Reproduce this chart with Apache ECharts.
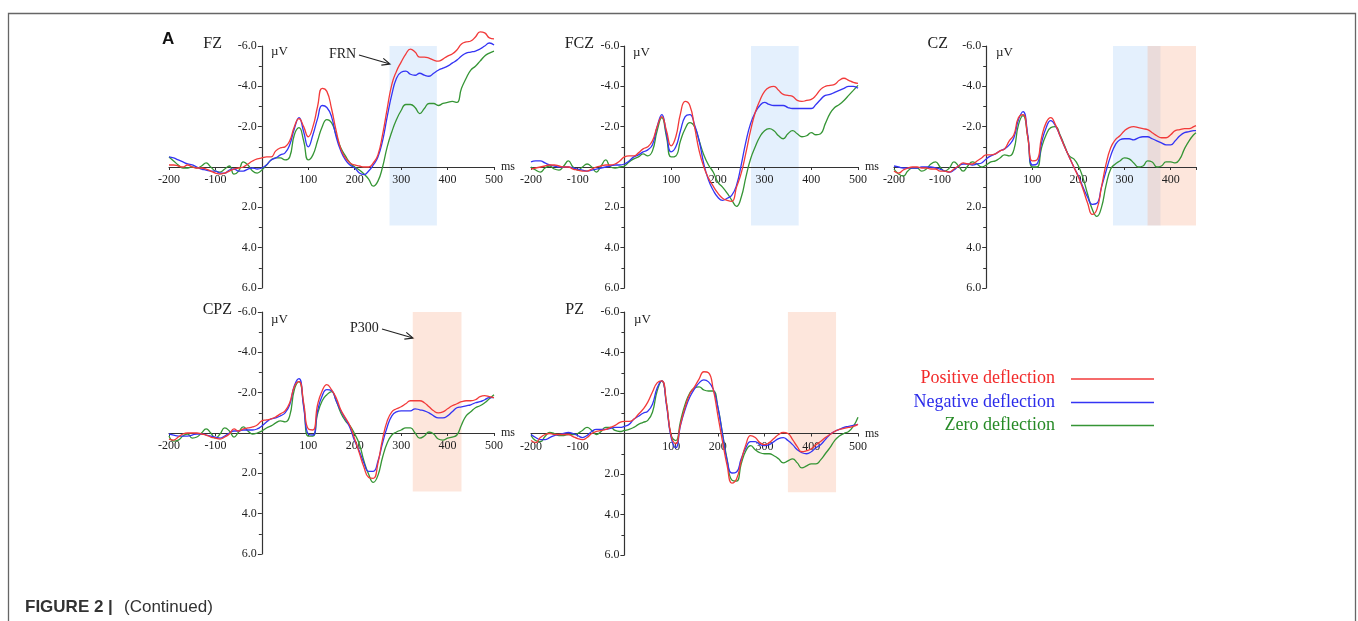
<!DOCTYPE html>
<html>
<head>
<meta charset="utf-8">
<script src="https://cdn.jsdelivr.net/npm/echarts@6/dist/echarts.min.js"></script>
<style>
  html, body { margin: 0; background: #fff; }
  #chart { width: 1358px; height: 621px; }
</style>
</head>
<body>
<div id="chart"></div>
<script>
// time points (ms), 10 ms steps
const times = [-200,-190,-180,-170,-160,-150,-140,-130,-120,-110,-100,-90,-80,-70,-60,-50,-40,-30,-20,-10,
  0,10,20,30,40,50,60,70,80,90,100,110,120,130,140,150,160,170,180,190,200,210,220,230,240,250,260,270,280,290,
  300,310,320,330,340,350,360,370,380,390,400,410,420,430,440,450,460,470,480,490,500];
// CZ is cut at 455 ms
const czTimes = times.slice(0, 66).concat([455]);

// amplitudes in µV (negative up)
const fzRed = [-0.1,-0.1,-0.05,0,-0.1,0,0.05,0.05,0.1,0.2,
  0.3,0.35,0.3,0.2,0.1,0.05,0,-0.15,-0.3,-0.4,
  -0.45,-0.5,-0.5,-0.8,-0.95,-1.0,-1.3,-2.0,-2.4,-2.0,
  -1.5,-2.0,-3.0,-3.9,-3.75,-2.9,-1.8,-0.9,-0.45,-0.2,
  -0.1,-0.05,0,0,-0.2,-0.6,-1.6,-2.9,-4.1,-4.75,
  -5.2,-5.6,-5.85,-5.7,-5.45,-5.45,-5.4,-5.3,-5.25,-5.35,
  -5.5,-5.6,-5.8,-6.1,-6.2,-6.25,-6.45,-6.7,-6.65,-6.4,
  -6.35];
const fzBlue = [-0.5,-0.45,-0.35,-0.25,-0.15,-0.1,0,0.1,0.15,0.2,
  0.2,0.3,0.3,0.15,0.1,0.2,0.2,0.1,0.05,0.1,
  0.05,-0.1,-0.35,-0.45,-0.6,-0.7,-1.1,-1.9,-2.45,-1.75,
  -1.0,-1.6,-2.4,-3.05,-2.95,-2.5,-1.5,-0.8,-0.35,-0.1,
  0.05,0.3,0.38,0.2,-0.1,-0.5,-1.3,-2.5,-3.6,-4.4,
  -4.7,-4.75,-4.6,-4.55,-4.65,-4.55,-4.5,-4.65,-4.8,-4.9,
  -5.0,-5.15,-5.3,-5.5,-5.65,-5.7,-5.75,-5.85,-6.0,-6.15,
  -6.05];
const fzGreen = [-0.5,-0.3,-0.1,0.05,0.05,0,0.05,-0.05,-0.2,0,
  0.2,0.25,0.1,-0.05,0.35,0.2,-0.25,-0.1,0.2,0.3,
  0.15,-0.1,-0.35,-0.45,-0.45,-0.35,-0.5,-1.6,-1.95,-1.3,
  -0.35,-0.6,-1.3,-2.0,-2.35,-2.2,-1.6,-0.95,-0.55,-0.2,
  0,0.15,0.35,0.6,0.95,0.7,0,-1.0,-1.75,-2.35,
  -2.8,-3.1,-3.1,-2.95,-2.65,-2.9,-3.15,-3.15,-3.05,-3.15,
  -3.2,-3.25,-3.2,-3.9,-4.4,-4.8,-5.0,-5.25,-5.5,-5.65,
  -5.75];

const fczRed = [0.1,0.05,0,-0.05,-0.1,-0.1,-0.05,0,0,0.1,
  0.15,0.2,0.2,0.1,0,-0.05,-0.1,-0.1,-0.15,-0.3,
  -0.5,-0.55,-0.55,-0.7,-0.9,-1.0,-1.3,-2.0,-2.5,-1.8,
  -1.05,-1.5,-2.65,-3.25,-3.05,-2.0,-0.8,0,0.55,0.95,
  1.3,1.55,1.65,1.7,1.0,0.3,-0.7,-1.8,-2.7,-3.3,
  -3.75,-3.95,-4.0,-3.8,-3.6,-3.55,-3.5,-3.3,-3.25,-3.3,
  -3.35,-3.55,-3.85,-4.0,-4.05,-4.1,-4.3,-4.4,-4.3,-4.2,
  -4.15];
const fczBlue = [-0.25,-0.3,-0.3,-0.2,-0.1,-0.05,0,0,0,0.05,
  0.1,0.15,0.2,0.15,0.1,0.05,0,-0.05,-0.1,-0.1,
  -0.15,-0.3,-0.5,-0.6,-0.75,-0.85,-1.1,-2.0,-2.6,-1.65,
  -0.75,-1.0,-1.8,-2.5,-2.6,-2.1,-1.3,-0.15,0.65,1.15,
  1.5,1.65,1.55,1.4,0.9,-0.1,-1.25,-2.15,-2.7,-3.05,
  -3.2,-3.1,-3.05,-3.05,-3.05,-2.95,-2.9,-2.9,-2.9,-2.9,
  -2.9,-3.1,-3.35,-3.55,-3.6,-3.7,-3.8,-3.9,-4.0,-4.0,
  -3.9];
const fczGreen = [0,0.15,0.25,0.05,-0.05,0.1,0.15,-0.05,-0.3,0,
  0.15,0,-0.15,0,0.25,-0.05,-0.35,0,0.05,0,
  -0.05,-0.25,-0.4,-0.5,-0.65,-0.55,-0.8,-1.8,-2.45,-1.5,
  -0.5,-0.55,-1.3,-1.9,-2.2,-2.0,-1.3,-0.6,-0.1,0.25,
  0.75,1.0,1.3,1.65,1.95,1.5,0.5,-0.4,-1.0,-1.5,
  -1.8,-1.9,-1.8,-1.55,-1.4,-1.65,-1.8,-1.65,-1.5,-1.55,
  -1.7,-1.6,-1.65,-2.15,-2.65,-2.95,-3.1,-3.3,-3.55,-3.8,
  -4.05];

const czRed = [0.2,0.3,0.15,0.05,0,0,0.05,0.05,0.1,0.1,
  0.2,0.2,0.25,0.1,-0.05,-0.2,-0.15,-0.15,-0.3,-0.45,
  -0.6,-0.6,-0.65,-0.8,-0.9,-1.3,-1.6,-2.45,-2.6,-1.5,
  -0.3,-0.35,-1.45,-2.2,-2.45,-2.1,-1.55,-1.0,-0.5,0,
  0.5,1.1,1.8,2.35,2.1,1.0,-0.15,-0.95,-1.35,-1.55,
  -1.8,-1.95,-2.0,-1.95,-1.9,-1.85,-1.7,-1.55,-1.45,-1.45,
  -1.6,-1.8,-1.85,-1.9,-1.9,-2.0,
  -2.05];
const czBlue = [-0.05,0,0.05,0.05,0.05,0.05,0,0,0,0.05,
  0.1,0.2,0.25,0.15,-0.05,-0.15,-0.15,-0.1,-0.15,-0.2,
  -0.4,-0.55,-0.65,-0.8,-0.9,-1.1,-1.45,-2.35,-2.75,-1.6,
  -0.1,-0.15,-1.2,-1.95,-2.3,-2.05,-1.55,-1.0,-0.5,0,
  0.45,1.0,1.5,1.85,1.8,1.0,0.2,-0.55,-1.1,-1.35,
  -1.4,-1.4,-1.35,-1.45,-1.5,-1.5,-1.4,-1.3,-1.2,-1.1,
  -1.1,-1.3,-1.55,-1.7,-1.75,-1.8,
  -1.8];
const czGreen = [0.1,0.35,0.45,0.2,0.05,0.05,0.2,0.1,-0.15,-0.25,
  0,0.2,0.05,-0.25,-0.05,0.2,-0.05,-0.25,-0.15,0,
  -0.1,-0.25,-0.3,-0.45,-0.6,-0.55,-0.85,-2.1,-2.55,-1.5,
  0,0,-0.95,-1.6,-1.95,-2.0,-1.6,-1.05,-0.55,-0.4,
  -0.05,0.55,1.35,2.1,2.45,2.0,0.9,0.1,-0.15,-0.3,
  -0.45,-0.4,-0.2,0,-0.05,-0.3,-0.25,0,-0.05,-0.25,
  -0.25,-0.2,-0.4,-0.9,-1.3,-1.6,
  -1.7];

const cpzRed = [0.3,0.35,0.2,0.05,0,0,0,0.05,0.1,0.2,
  0.25,0.3,0.2,0.05,-0.2,-0.1,-0.2,-0.25,-0.3,-0.4,
  -0.6,-0.65,-0.7,-0.8,-0.95,-1.1,-1.5,-2.3,-2.55,-1.5,
  -0.2,-0.15,-1.4,-2.1,-2.4,-2.15,-1.75,-1.15,-0.75,-0.35,
  0.3,1.0,1.7,2.2,2.25,1.5,0.3,-0.6,-1.05,-1.2,
  -1.3,-1.45,-1.6,-1.6,-1.6,-1.5,-1.3,-1.1,-1.0,-1.05,
  -1.2,-1.35,-1.45,-1.55,-1.6,-1.6,-1.65,-1.8,-1.85,-1.8,
  -1.75];
const cpzBlue = [0.05,0.1,0.15,0.15,0.15,0.1,0.05,0.05,0.1,0.15,
  0.2,0.25,0.15,0,-0.1,-0.1,-0.15,-0.15,-0.15,-0.2,
  -0.35,-0.55,-0.7,-0.75,-0.85,-1.0,-1.4,-2.35,-2.7,-1.3,
  0.05,0.1,-1.1,-1.85,-2.15,-2.1,-1.6,-1.1,-0.7,-0.25,
  0.4,0.9,1.5,1.9,1.9,1.4,0.5,-0.3,-0.85,-1.05,
  -1.1,-1.1,-1.1,-1.2,-1.15,-1.1,-1.0,-0.85,-0.75,-0.75,
  -0.85,-1.05,-1.25,-1.3,-1.35,-1.4,-1.5,-1.55,-1.65,-1.75,
  -1.75];
const cpzGreen = [0.15,0.4,0.35,0.15,0.05,0.25,0.2,0,-0.2,0,
  0.25,0.05,-0.25,-0.1,0.2,-0.05,-0.3,-0.1,0.05,0,
  -0.1,-0.25,-0.35,-0.5,-0.6,-0.55,-0.85,-2.15,-2.55,-1.4,
  0.15,0.15,-0.95,-1.6,-1.9,-2.05,-1.6,-1.0,-0.6,-0.35,
  0.05,0.55,1.4,2.05,2.45,2.1,1.2,0.5,0.1,-0.05,
  -0.15,-0.25,-0.25,0,0.25,0.15,-0.05,0.05,0.3,0.35,
  0.25,0.2,0.1,-0.4,-0.85,-1.05,-1.25,-1.35,-1.5,-1.7,
  -1.9];

const pzRed = [0.35,0.45,0.2,0.05,0,0.05,0.05,0.05,0.05,0.15,
  0.25,0.3,0.2,0,-0.1,-0.15,-0.2,-0.3,-0.4,-0.55,
  -0.6,-0.6,-0.7,-0.95,-1.2,-1.55,-2.05,-2.5,-2.6,-1.5,
  0.1,0.5,-0.45,-1.3,-1.95,-2.3,-2.7,-3.05,-3.0,-2.2,
  -0.9,0.4,1.6,2.45,2.25,1.35,0.55,0.1,0.2,0.45,
  0.55,0.45,0.25,0.05,-0.05,0,0.3,0.65,0.9,0.85,
  0.75,0.55,0.4,0.2,0.05,-0.1,-0.2,-0.25,-0.3,-0.35,
  -0.45];
const pzBlue = [0.05,0.2,0.3,0.3,0.2,0.1,0.05,0,-0.05,0,
  0.1,0.2,0.1,-0.1,-0.2,-0.2,-0.2,-0.25,-0.3,-0.3,
  -0.35,-0.45,-0.7,-0.85,-1.0,-1.1,-1.45,-2.25,-2.6,-1.4,
  0.2,0.7,-0.4,-1.2,-1.8,-2.2,-2.5,-2.65,-2.55,-2.2,
  -1.3,0.05,1.35,1.95,1.9,1.25,0.7,0.4,0.4,0.55,
  0.6,0.55,0.4,0.25,0.2,0.35,0.55,0.8,0.95,1.0,
  0.9,0.7,0.55,0.3,0.05,-0.1,-0.2,-0.3,-0.35,-0.4,
  -0.45];
const pzGreen = [0.1,0.35,0.4,0.15,-0.05,0,0.1,0.1,0.05,0.05,
  0,-0.15,-0.3,-0.15,0.05,-0.1,-0.3,-0.3,-0.15,-0.1,
  -0.15,-0.2,-0.3,-0.45,-0.55,-0.65,-1.05,-2.1,-2.6,-1.5,
  0.1,0.35,-0.6,-1.45,-2.0,-2.25,-2.3,-2.15,-2.1,-2.1,
  -1.3,0,1.3,2.3,2.35,1.5,0.85,0.6,0.8,0.95,
  1.0,1.0,1.1,1.25,1.45,1.35,1.25,1.45,1.7,1.6,
  1.5,1.5,1.3,1.0,0.7,0.35,0.12,0,-0.1,-0.35,
  -0.8];

// analysis windows (ms) : FRN (blue) and P300 (orange)
const fzWindows = [[275, 377, 'frn']];
const fczWindows = [[271, 373, 'frn']];
const czWindows = [[275, 378, 'frn'], [350, 455, 'p300']];
const cpzWindows = [[325, 430, 'p300']];
const pzWindows = [[350, 453, 'p300']];
const windowTop = -6;
const windowBottom = 2.9;

const seriesNames = ['Positive deflection', 'Negative deflection', 'Zero deflection'];

// ---- styling / layout ----
const colors = {red: '#f23a3a', blue: '#3434f4', green: '#359535'};
const textColors = {red: '#f22a2a', blue: '#2b2bea', green: '#268a26'};
const shade = {frn: 'rgba(165,205,248,0.3)', p300: 'rgba(248,172,138,0.3)'};
const serif = '"Liberation Serif", "Times New Roman", serif';
const sans = '"Liberation Sans", Arial, sans-serif';

const panels = [
  {title: 'FZ', t: times, red: fzRed, blue: fzBlue, green: fzGreen, win: fzWindows, xMax: 500, ms: true,
   grid: {left: 169, top: 46, width: 325, height: 242}, titlePos: [222, 44], uvPos: [271, 52]},
  {title: 'FCZ', t: times, red: fczRed, blue: fczBlue, green: fczGreen, win: fczWindows, xMax: 500, ms: true,
   grid: {left: 531, top: 46, width: 327, height: 242}, titlePos: [594, 44], uvPos: [633, 53]},
  {title: 'CZ', t: czTimes, red: czRed, blue: czBlue, green: czGreen, win: czWindows, xMax: 455, ms: false,
   grid: {left: 894, top: 46, width: 302, height: 242}, titlePos: [948, 44], uvPos: [996, 53]},
  {title: 'CPZ', t: times, red: cpzRed, blue: cpzBlue, green: cpzGreen, win: cpzWindows, xMax: 500, ms: true,
   grid: {left: 169, top: 312, width: 325, height: 242}, titlePos: [232, 310], uvPos: [271, 320]},
  {title: 'PZ', t: times, red: pzRed, blue: pzBlue, green: pzGreen, win: pzWindows, xMax: 500, ms: true,
   grid: {left: 531, top: 312, width: 327, height: 243}, titlePos: [584, 310], uvPos: [634, 320]}
];

const xMin = -200, yMin = -6, yMax = 6;
const pair = (t, v) => t.map((x, i) => [x, v[i]]);
const axisColor = '#333';
const labelFont = {fontFamily: serif, fontSize: 12, color: '#222'};

const grids = [], xAxes = [], yAxes = [], series = [];
panels.forEach((p, i) => {
  grids.push(Object.assign({containLabel: false}, p.grid));
  // axes cross at (0 ms, 0 µV): shift them into the plot with offsets
  const yOffset = -(0 - xMin) / (p.xMax - xMin) * p.grid.width;
  const xOffset = -(0 - yMin) / (yMax - yMin) * p.grid.height;
  xAxes.push({
    type: 'value', gridIndex: i, min: xMin, max: p.xMax, interval: 100,
    position: 'bottom', offset: xOffset, z: 10,
    name: p.ms ? 'ms' : '', nameLocation: 'end', nameGap: 7,
    nameTextStyle: Object.assign({}, labelFont, {fontSize: 12}),
    axisLine: {onZero: false, lineStyle: {color: axisColor, width: 1.2}},
    axisTick: {show: true, length: 3, lineStyle: {color: axisColor}},
    axisLabel: Object.assign({
      margin: 7,
      formatter: v => (v !== 0 && v % 100 === 0) ? String(v) : ''
    }, labelFont),
    splitLine: {show: false}
  });
  yAxes.push({
    type: 'value', gridIndex: i, min: yMin, max: yMax, interval: 2, inverse: true,
    position: 'left', offset: yOffset, z: 10,
    axisLine: {onZero: false, lineStyle: {color: axisColor, width: 1.2}},
    axisTick: {show: true, length: 4, lineStyle: {color: axisColor}},
    minorTick: {show: true, splitNumber: 2, length: 3, lineStyle: {color: axisColor}},
    axisLabel: Object.assign({
      margin: 5,
      formatter: v => v === 0 ? '' : v.toFixed(1)
    }, labelFont),
    splitLine: {show: false}
  });
  const areas = p.win.map(w => [
    {xAxis: w[0], yAxis: windowTop, itemStyle: {color: shade[w[2]]}},
    {xAxis: w[1], yAxis: windowBottom}
  ]);
  const line = (name, key, data, extra) => Object.assign({
    name, type: 'line', xAxisIndex: i, yAxisIndex: i,
    data: pair(p.t, data), showSymbol: false, symbol: 'none',
    smooth: 0.5, clip: false, silent: true, z: 12,
    lineStyle: {color: colors[key], width: 1.3}, itemStyle: {color: colors[key]}
  }, extra || {});
  series.push(line(seriesNames[2], 'green', p.green, {
    markArea: {silent: true, z: 1, data: areas}
  }));
  series.push(line(seriesNames[1], 'blue', p.blue));
  series.push(line(seriesNames[0], 'red', p.red));
});

// ---- annotations ----
const graphics = [];
graphics.push({
  type: 'polyline', silent: true,
  shape: {points: [[8.5, 621], [8.5, 13.5], [1355.5, 13.5], [1355.5, 621]]},
  style: {stroke: '#666', lineWidth: 1.3, fill: null}
});
const txt = (text, x, y, font, fill, align) => ({
  type: 'text', silent: true, x: x, y: y,
  style: {text, font, fill, textAlign: align || 'left', align: align || 'left',
          textVerticalAlign: 'middle', verticalAlign: 'middle'}
});
graphics.push(txt('A', 162, 39, 'bold 17px ' + sans, '#111'));
panels.forEach(p => {
  graphics.push(txt(p.title, p.titlePos[0], p.titlePos[1], '16px ' + serif, '#222', 'right'));
  graphics.push(txt('\u00b5V', p.uvPos[0], p.uvPos[1], '13px ' + serif, '#222'));
});
function arrow(x1, y1, x2, y2) {
  const a = Math.atan2(y2 - y1, x2 - x1), L = 8, w = 3.5;
  const bx = x2 - L * Math.cos(a), by = y2 - L * Math.sin(a);
  return [
    {type: 'line', silent: true, shape: {x1, y1, x2, y2}, style: {stroke: '#222', lineWidth: 1.2}},
    {type: 'polyline', silent: true,
     shape: {points: [[bx + w * Math.sin(a), by - w * Math.cos(a)], [x2, y2], [bx - w * Math.sin(a), by + w * Math.cos(a)]]},
     style: {stroke: '#222', lineWidth: 1.2, fill: null}}
  ];
}
graphics.push(txt('FRN', 329, 54, '14px ' + serif, '#222'));
graphics.push(...arrow(359, 55, 390, 64));
graphics.push(txt('P300', 350, 328, '14px ' + serif, '#222'));
graphics.push(...arrow(382, 329, 413, 338));

// legend
const legendRows = [
  {name: seriesNames[0], key: 'red', y: 378.5},
  {name: seriesNames[1], key: 'blue', y: 402},
  {name: seriesNames[2], key: 'green', y: 425}
];
legendRows.forEach(r => {
  graphics.push(txt(r.name, 1055, r.y, '18px ' + serif, textColors[r.key], 'right'));
  graphics.push({type: 'line', silent: true, shape: {x1: 1071, y1: r.y + 0.5, x2: 1154, y2: r.y + 0.5},
    style: {stroke: colors[r.key], lineWidth: 1.6}});
});

// caption
graphics.push(txt('FIGURE 2 |', 25, 607, 'bold 17px ' + sans, '#333'));
graphics.push(txt('(Continued)', 124, 607, '17px ' + sans, '#333'));

const chart = echarts.init(document.getElementById('chart'), null, {renderer: 'canvas'});
chart.setOption({
  backgroundColor: '#fff',
  animation: false,
  grid: grids,
  xAxis: xAxes,
  yAxis: yAxes,
  series: series,
  graphic: {elements: graphics}
});
</script>
</body>
</html>
